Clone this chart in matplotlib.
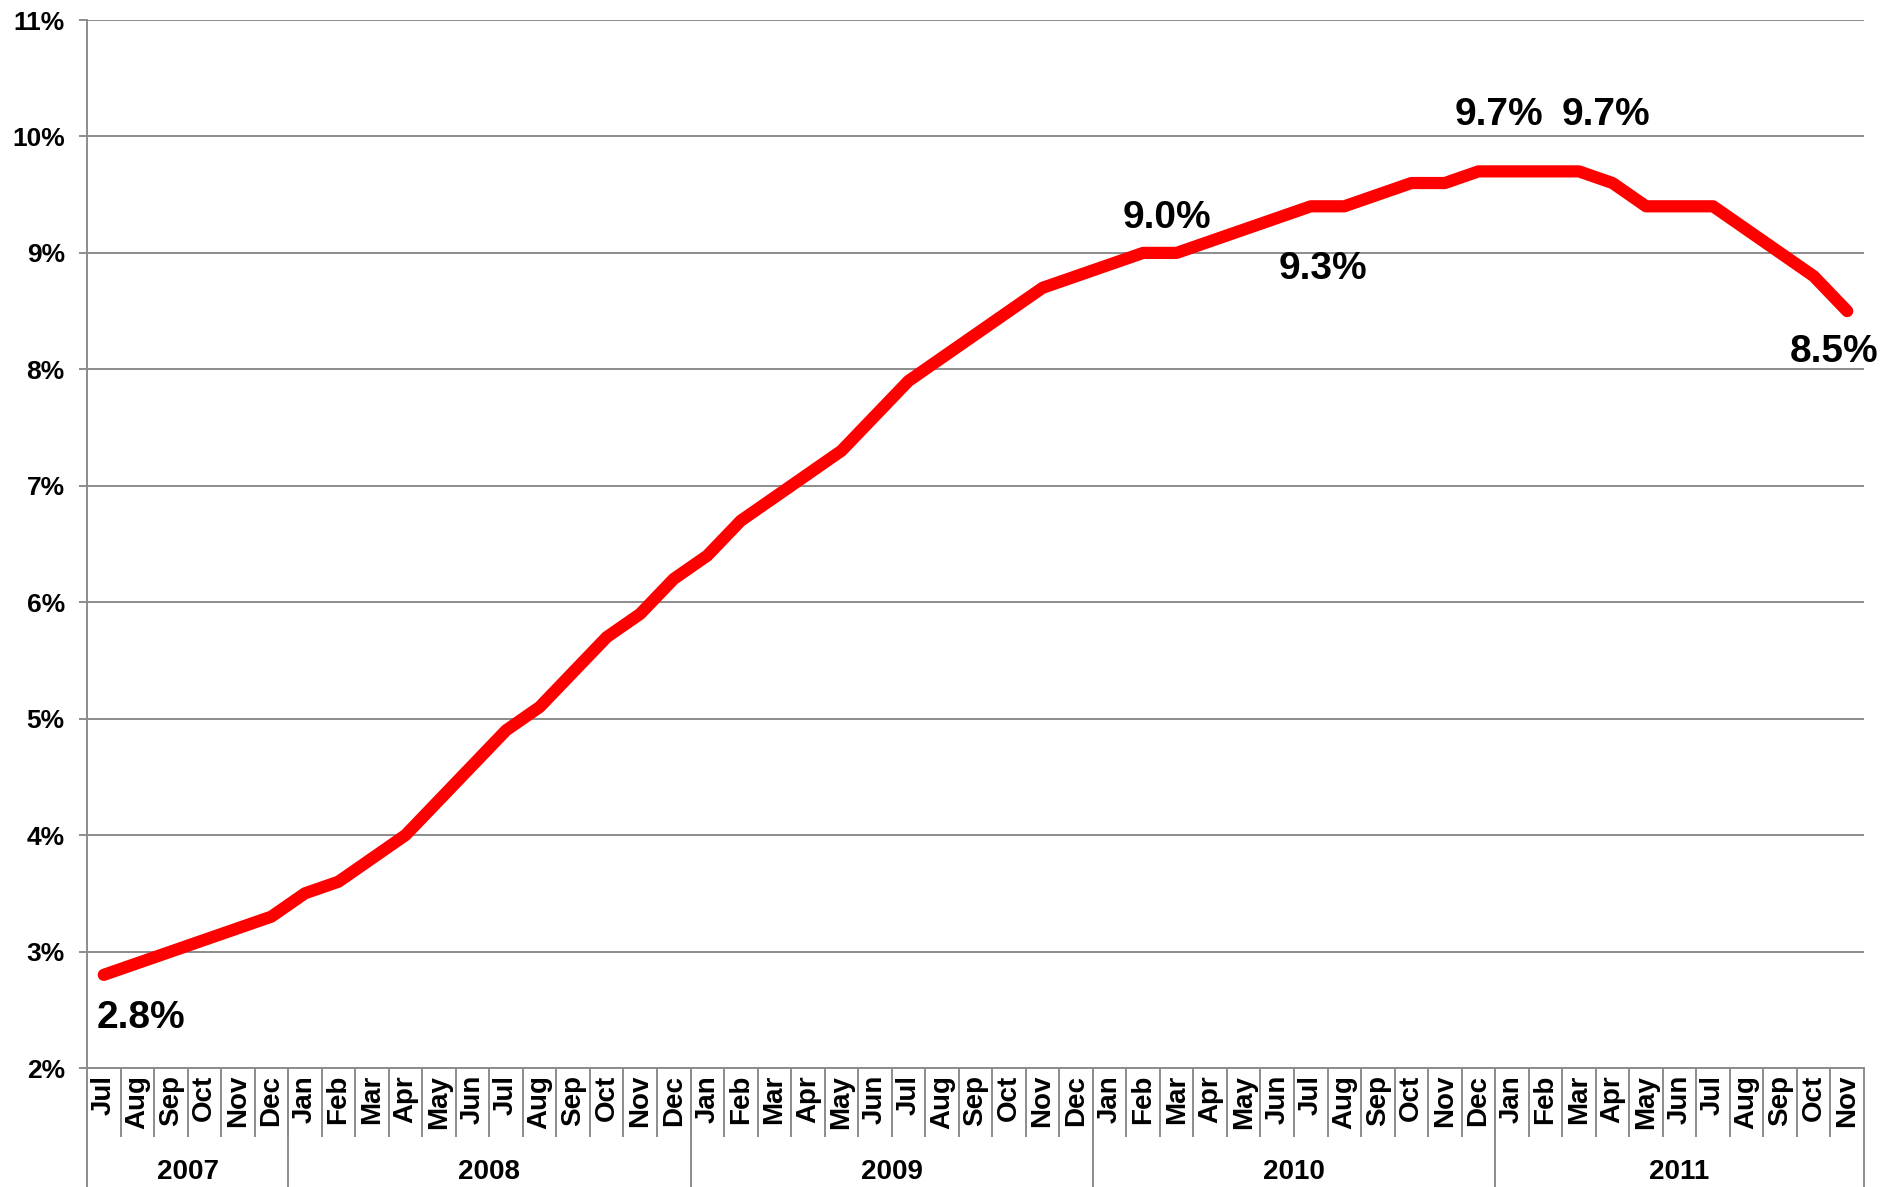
import matplotlib.pyplot as plt
from matplotlib.transforms import blended_transform_factory

months = ["Jul", "Aug", "Sep", "Oct", "Nov", "Dec"] + \
    ["Jan", "Feb", "Mar", "Apr", "May", "Jun", "Jul", "Aug", "Sep", "Oct", "Nov", "Dec"] * 3 + \
    ["Jan", "Feb", "Mar", "Apr", "May", "Jun", "Jul", "Aug", "Sep", "Oct", "Nov"]
years = ["2007", "2008", "2009", "2010", "2011"]
months_per_year = [6, 12, 12, 12, 11]

rate = [2.8, 2.9, 3.0, 3.1, 3.2, 3.3,
        3.5, 3.6, 3.8, 4.0, 4.3, 4.6, 4.9, 5.1, 5.4, 5.7, 5.9, 6.2,
        6.4, 6.7, 6.9, 7.1, 7.3, 7.6, 7.9, 8.1, 8.3, 8.5, 8.7, 8.8,
        8.9, 9.0, 9.0, 9.1, 9.2, 9.3, 9.4, 9.4, 9.5, 9.6, 9.6, 9.7,
        9.7, 9.7, 9.7, 9.6, 9.4, 9.4, 9.4, 9.2, 9.0, 8.8, 8.5]

# which points get a value label, and where the label sits relative to the point
labelled = [0, 31, 35, 41, 44, 52]
label_dx = [1.1, 0.7, 1.35, 0.6, 0.8, -0.4]
label_dy = [-0.37, 0.3, -0.44, 0.48, 0.48, -0.35]

grey = "#8c8c8c"
font = ["Liberation Sans", "DejaVu Sans"]

fig = plt.figure(figsize=(18.81, 11.87), dpi=100)
ax = fig.add_axes([0.04625, 0.10025, 0.94471, 0.8829])

x = list(range(len(rate)))
ax.plot(x, rate, color="#ff0000", linewidth=8.8, solid_capstyle="round", solid_joinstyle="round", zorder=3)

for i, dx, dy in zip(labelled, label_dx, label_dy):
    ax.text(i + dx, rate[i] + dy, f"{rate[i]:.1f}%", ha="center", va="center",
            fontsize=28, fontweight="bold", family=font, zorder=4)

ax.set_xlim(-0.5, len(rate) - 0.5)
ax.set_ylim(2, 11)
ax.set_yticks(range(2, 12))
ax.set_yticklabels([f"{v}%" for v in range(2, 12)], fontsize=19, fontweight="bold", family=font)
ax.grid(axis="y", color=grey, linewidth=1.4)
ax.set_axisbelow(True)

ax.set_xticks(x)
ax.set_xticklabels(months, rotation=90, fontsize=20, fontweight="bold", family=font)
ax.set_xticks([i + 0.5 for i in x[:-1]], minor=True)
ax.tick_params(axis="x", which="major", length=0, pad=5)
ax.tick_params(axis="x", which="minor", length=50, width=1.4, color=grey)
ax.tick_params(axis="y", length=6, width=1.4, color=grey, pad=10)

for side in ["top", "right"]:
    ax.spines[side].set_visible(False)
for side in ["left", "bottom"]:
    ax.spines[side].set_color(grey)
    ax.spines[side].set_linewidth(1.4)

trans = blended_transform_factory(ax.transData, ax.transAxes)
start = -0.5
for year, n in zip(years, months_per_year):
    end = start + n
    ax.plot([end, end], [0, -0.2], color=grey, linewidth=1.4, transform=trans, clip_on=False)
    ax.text((start + end) / 2, -0.099, year, ha="center", va="center", fontsize=20,
            fontweight="bold", family=font, transform=trans)
    start = end
ax.plot([-0.5, -0.5], [0, -0.2], color=grey, linewidth=1.4, transform=trans, clip_on=False)

fig.savefig("out.png", dpi=100)
